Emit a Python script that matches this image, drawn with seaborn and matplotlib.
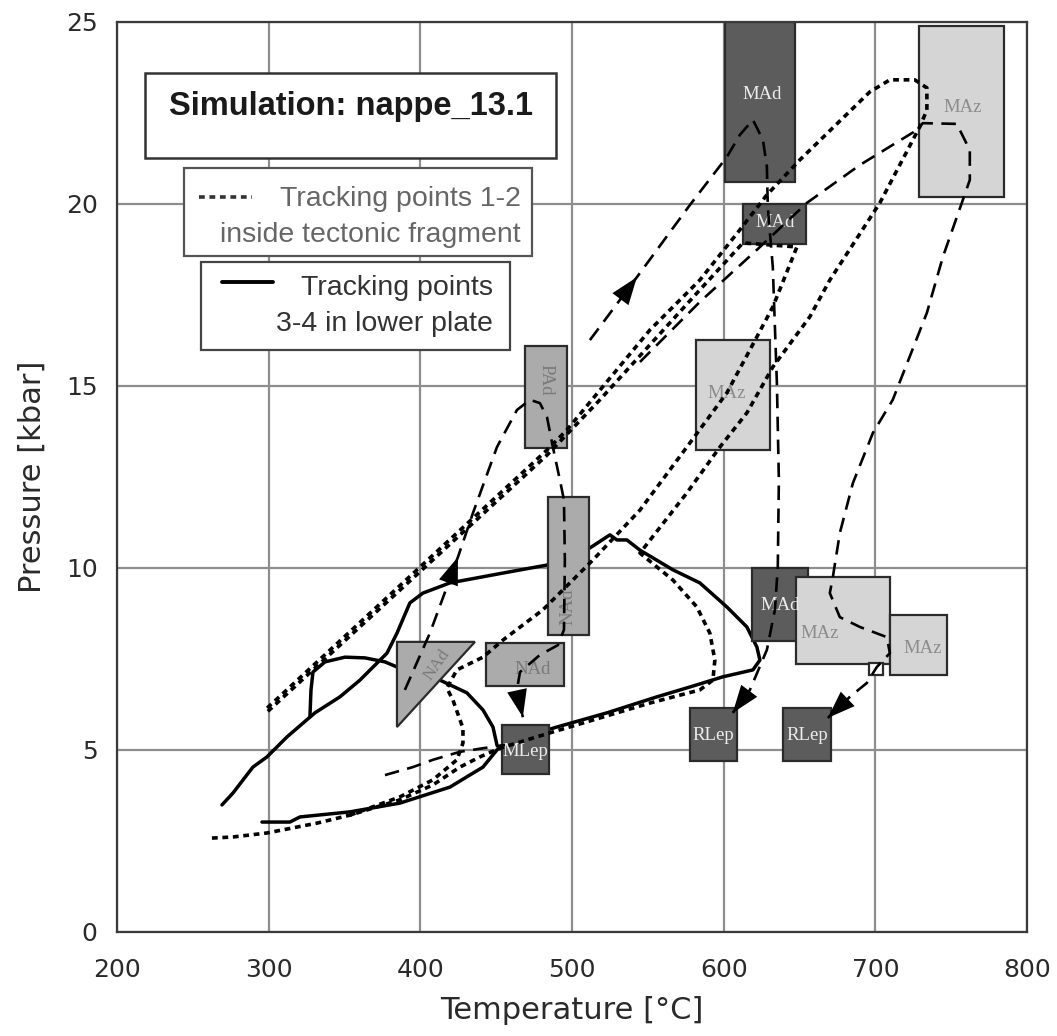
import numpy as np
import pandas as pd
import matplotlib
matplotlib.use("Agg")
import matplotlib.pyplot as plt
from matplotlib.patches import Rectangle, Polygon
import seaborn as sns

# ---------------- data (Temperature [°C], Pressure [kbar]) ----------------
# Tracking points 3-4 (lower plate), solid
solid_a_T = [269.2, 276.5, 289.6, 298.9, 312.1, 330.5, 347.0, 360.2, 378.0, 384.6, 393.1, 401.7, 419.5,
             454.4, 483.5, 511.8, 525.0, 529.6, 536.2, 544.8, 566.5, 584.3, 602.1, 615.3, 621.9, 623.9,
             619.3, 599.5, 577.7, 556.0, 523.0, 490.0, 478.8, 454.4, 450.5, 441.3, 419.5, 386.5, 353.6,
             320.6, 314.0, 295.6]
solid_a_P = [3.49, 3.82, 4.53, 4.81, 5.36, 6.02, 6.46, 6.92, 7.66, 8.21, 9.04, 9.31, 9.59,
             9.86, 10.08, 10.55, 10.91, 10.77, 10.77, 10.49, 9.95, 9.59, 8.93, 8.38, 7.83, 7.47,
             7.20, 7.01, 6.73, 6.46, 6.02, 5.63, 5.49, 5.14, 5.00, 4.53, 3.98, 3.54, 3.30,
             3.16, 3.02, 3.02]
solid_b_T = [327.2, 327.9, 329.2, 337.1, 350.3, 363.5, 376.7, 384.6, 412.9, 430.7, 441.3, 447.9, 450.5]
solid_b_P = [5.91, 6.65, 7.14, 7.42, 7.55, 7.53, 7.42, 7.28, 6.92, 6.57, 6.10, 5.63, 5.14]

# Tracking points 1-2 (inside tectonic fragment), dotted
dot_a_T = [262.6, 276.5, 298.9, 331.8, 353.6, 386.5, 408.3, 426.1, 439.3, 452.5, 485.4, 518.4, 551.4,
           584.3, 592.9, 594.2, 590.9, 582.3, 566.5, 544.8, 575.7, 597.5, 615.3, 632.4, 656.8, 670.0,
           703.0, 729.3, 734.0, 734.0, 726.0, 709.6, 696.4, 650.2, 628.5, 610.7, 584.3, 551.4, 496.6,
           483.5, 298.9]
dot_a_P = [2.58, 2.61, 2.72, 2.99, 3.21, 3.63, 4.04, 4.53, 4.81, 5.05, 5.47, 5.88, 6.29,
           6.65, 6.92, 7.47, 8.21, 8.93, 9.67, 10.41, 12.06, 13.32, 14.26, 15.52, 16.90, 17.91,
           20.03, 22.12, 22.58, 23.19, 23.41, 23.41, 23.08, 21.21, 20.25, 19.29, 17.91, 16.54, 13.79,
           13.24, 6.15]
dot_b_T = [353.6, 386.5, 408.3, 424.1, 428.1, 428.1, 421.5, 417.5, 424.1, 441.3, 454.5, 480.8, 513.8,
           544.8, 575.7, 602.1, 621.9, 632.4, 648.3, 612.7, 584.3, 518.4, 483.5, 298.9]
dot_b_P = [3.21, 3.71, 4.18, 4.73, 5.19, 5.60, 6.37, 6.70, 7.20, 7.55, 8.02, 8.85, 10.22,
           11.59, 13.32, 14.81, 16.35, 17.17, 18.82, 18.93, 17.64, 14.62, 13.10, 6.04]

# Literature P-T paths, long dashed (arrows at the marked indices)
path1_T = [511.8, 542.8, 577.7, 602.1, 610.7, 619.3, 625.9, 628.5, 629.1, 632.4, 635.1, 636.4, 635.7,
           633.8, 628.5, 617.3, 606.0]
path1_P = [16.26, 17.99, 19.97, 21.29, 21.90, 22.31, 21.76, 21.02, 19.92, 18.27, 15.08, 12.42, 10.03,
           8.85, 7.75, 6.65, 6.02]
path2_T = [389.8, 406.3, 424.8, 434.7, 450.5, 463.7, 472.3, 478.8, 483.5, 487.4, 492.0, 494.7, 495.3,
           494.7, 490.7, 478.8, 465.7, 463.7, 467.6]
path2_P = [6.65, 8.21, 10.30, 11.51, 13.32, 14.34, 14.62, 14.53, 14.15, 13.32, 12.42, 11.87, 10.22,
           8.30, 7.88, 7.61, 7.14, 6.65, 5.90]
path3_T = [376.7, 395.1, 408.3, 426.1, 455.8]
path3_P = [4.31, 4.53, 4.73, 4.95, 5.14]
path4_T = [544.8, 584.3, 621.9, 654.9, 689.8, 727.4, 731.3, 753.7, 762.3, 762.3, 757.7, 744.5, 734.0,
           711.5, 698.4, 685.2, 676.6, 672.0, 670.0, 676.6, 689.8, 707.6, 709.6, 701.0, 694.4, 683.2,
           668.7]
path4_P = [15.66, 17.31, 18.74, 20.03, 21.07, 22.03, 22.22, 22.20, 21.48, 20.66, 20.11, 18.54, 17.01,
           14.62, 13.71, 12.33, 10.96, 9.75, 9.31, 8.65, 8.38, 8.10, 7.66, 7.28, 6.84, 6.46,
           5.88]

# Metamorphic P-T boxes
box_labels = ["MAd", "MAz", "MAd", "MAz", "PAd", "NAd", "NAd", "MLep", "MAd", "MAz", "MAz", "RLep", "RLep", ""]
box_T0 = [601, 729, 613, 582, 469, 484, 443, 454, 619, 648, 710, 578, 639, 696]
box_T1 = [647, 785, 654, 630.5, 497, 511, 495, 485, 655.5, 710, 747, 609, 671, 705]
box_P0 = [20.6, 20.2, 18.9, 13.25, 13.3, 8.15, 6.75, 4.35, 8.0, 7.35, 7.05, 4.7, 4.7, 7.06]
box_P1 = [25.0, 24.9, 20.0, 16.25, 16.1, 11.95, 7.95, 5.7, 10.0, 9.75, 8.7, 6.15, 6.15, 7.39]
box_shade = ["dark", "light", "dark", "light", "mid", "mid", "mid", "dark", "dark", "light", "light", "dark", "dark", "white"]
box_label_T = [625.2, 757.7, 633.8, 602.0, 483.0, 497.3, 474.2, 469.6, 637.0, 663.4, 731.3, 592.9, 654.9, 0]
box_label_P = [23.0, 22.66, 19.5, 14.8, 15.16, 8.93, 7.2, 4.95, 8.98, 8.2, 7.8, 5.41, 5.41, 0]
box_label_rot = [0, 0, 0, 0, -90, 90, 0, 0, 0, 0, 0, 0, 0, 0]
tri_T = [384.6, 436.0, 384.6]
tri_P = [7.97, 7.97, 5.63]
tri_label = "NAd"

x_ticks = [200, 300, 400, 500, 600, 700, 800]
y_ticks = [0, 5, 10, 15, 20, 25]

# ---------------- style ----------------
sns.set_theme(style="whitegrid")
plt.rcParams['font.family'] = ['Liberation Sans', 'DejaVu Sans']

fill = {"dark": "#5c5c5c", "mid": "#ababab", "light": "#d5d5d5", "white": "#ffffff"}
tcol = {"dark": "#ececec", "mid": "#7a7a7a", "light": "#8c8c8c", "white": "#000000"}

fig = plt.figure(figsize=(10.57, 10.36), dpi=100)
ax = fig.add_axes([0.1107, 0.1004, 0.8609, 0.8784])
ax.set_facecolor("white")

DOT = (1.6, 1.3)
LONG = (5.5, 3.2)


def draw(T, P, lw, dashes=None, z=3):
    sns.lineplot(x=T, y=P, sort=False, estimator=None, color="black", lw=lw, ax=ax, zorder=z)
    ln = ax.lines[-1]
    if dashes is not None:
        ln.set_dashes(dashes)
    ln.set_solid_capstyle("round")
    return ln


# solid lines go behind the boxes
draw(solid_a_T, solid_a_P, 2.5, None, z=1.5)
draw(solid_b_T, solid_b_P, 2.5, None, z=1.5)

# boxes
for i in range(len(box_T0)):
    ax.add_patch(Rectangle((box_T0[i], box_P0[i]), box_T1[i] - box_T0[i], box_P1[i] - box_P0[i],
                           facecolor=fill[box_shade[i]], edgecolor="#2b2b2b", lw=1.6, zorder=2))
    if box_labels[i]:
        ax.text(box_label_T[i], box_label_P[i], box_labels[i], rotation=box_label_rot[i],
                ha="center", va="center", fontsize=13.5, family="Liberation Serif",
                color=tcol[box_shade[i]], zorder=2.5)
ax.add_patch(Polygon(list(zip(tri_T, tri_P)), closed=True, facecolor=fill["mid"],
                     edgecolor="#2b2b2b", lw=1.6, zorder=2))
ax.text(411, 7.35, tri_label, rotation=55, ha="center", va="center", fontsize=12.5,
        family="Liberation Serif", color=tcol["mid"], zorder=2.5)

# dotted (tracking points 1-2)
draw(dot_a_T, dot_a_P, 2.6, DOT)
draw(dot_b_T, dot_b_P, 2.6, DOT)

# long dashed literature paths
for T, P in [(path1_T, path1_P), (path2_T, path2_P), (path3_T, path3_P), (path4_T, path4_P)]:
    draw(T, P, 1.9, LONG)


def arrow(T, P, i):
    ax.annotate("", xy=(T[i], P[i]), xytext=(T[i - 1], P[i - 1]),
                arrowprops=dict(arrowstyle="-|>,head_length=1.1,head_width=0.4", color="black",
                                lw=0, shrinkA=0, shrinkB=0, mutation_scale=18), zorder=4)


arrow(path1_T, path1_P, 1)
arrow(path1_T, path1_P, len(path1_T) - 1)
arrow(path2_T, path2_P, 2)
arrow(path2_T, path2_P, len(path2_T) - 1)
arrow(path4_T, path4_P, len(path4_T) - 1)

# axes
ax.set_xlim(200, 800)
ax.set_ylim(0, 25)
ax.set_xticks(x_ticks)
ax.set_yticks(y_ticks)
ax.grid(True, color="#8e8e8e", lw=1.6)
ax.set_axisbelow(True)
for s in ax.spines.values():
    s.set_color("#3a3a3a")
    s.set_linewidth(1.6)
ax.tick_params(length=0, labelsize=18, labelcolor="#2a2a2a")
for lab in ax.get_xticklabels() + ax.get_yticklabels():
    lab.set_family("DejaVu Sans")
ax.tick_params(axis="x", pad=19)
ax.tick_params(axis="y", pad=14)
ax.set_xlabel("Temperature [°C]", fontsize=22, family="DejaVu Sans", color="#2a2a2a", labelpad=10)
ax.set_ylabel("Pressure [kbar]", fontsize=22, family="DejaVu Sans", color="#2a2a2a", labelpad=14)

# annotation boxes (axes fraction)
tr = ax.transAxes
ax.add_patch(Rectangle((0.0308, 0.8505), 0.4516, 0.0935, transform=tr, facecolor="white",
                       edgecolor="#333333", lw=1.8, zorder=5))
ax.text(0.257, 0.907, "Simulation: nappe_13.1", transform=tr, ha="center", va="center",
        fontsize=23.5, fontweight="bold", color="#1a1a1a", zorder=6)

ax.add_patch(Rectangle((0.0736, 0.7429), 0.3824, 0.0967, transform=tr, facecolor="white",
                       edgecolor="#555555", lw=1.6, zorder=5))
ax.plot([0.090, 0.148], [0.808, 0.808], transform=tr, color="#333333", lw=2.6,
        dashes=DOT, zorder=6)
ax.text(0.444, 0.806, "Tracking points 1-2", transform=tr, ha="right", va="center",
        fontsize=20.5, color="#666666", zorder=6)
ax.text(0.444, 0.766, "inside tectonic fragment", transform=tr, ha="right", va="center",
        fontsize=20.5, color="#666666", zorder=6)

ax.add_patch(Rectangle((0.0923, 0.6396), 0.3396, 0.0967, transform=tr, facecolor="white",
                       edgecolor="#444444", lw=1.6, zorder=5))
ax.plot([0.1154, 0.1714], [0.714, 0.714], transform=tr, color="black", lw=2.8, zorder=6)
ax.text(0.413, 0.708, "Tracking points", transform=tr, ha="right", va="center",
        fontsize=20.5, color="#333333", zorder=6)
ax.text(0.413, 0.668, "3-4 in lower plate", transform=tr, ha="right", va="center",
        fontsize=20.5, color="#333333", zorder=6)

fig.savefig("out.png", dpi=100, facecolor="white")
